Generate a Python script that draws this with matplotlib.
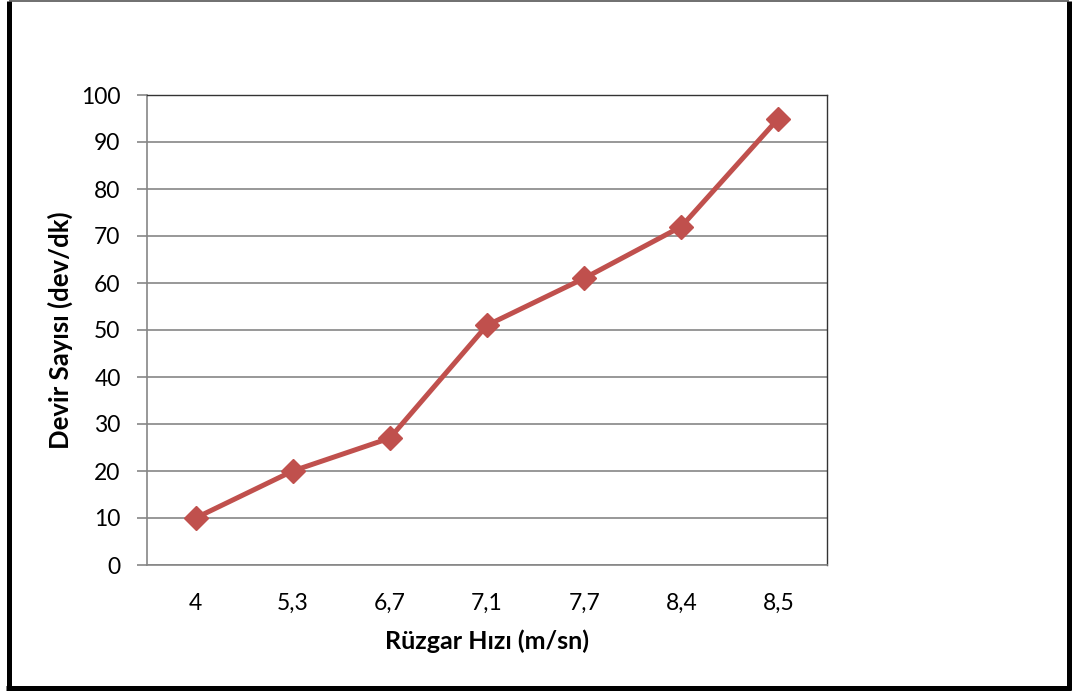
import matplotlib.pyplot as plt
from matplotlib.lines import Line2D

# rüzgar hızı kategorileri ve ölçülen devir sayıları
ruzgar_hizi = ['4', '5,3', '6,7', '7,1', '7,7', '8,4', '8,5']
devir_sayisi = [10, 20, 27, 51, 61, 72, 95]
y_ticks = [0, 10, 20, 30, 40, 50, 60, 70, 80, 90, 100]

plt.rcParams['font.family'] = ['Lato', 'DejaVu Sans']

W, H = 1072, 691
fig = plt.figure(figsize=(W / 100, H / 100), dpi=100)

# dış çerçeve (sol, sağ, alt kalın; üst ince)
def px(x, y):
    return x / W, 1 - y / H

for (x0, y0, x1, y1, lw, c) in [
    (8.5, 0.5, 8.5, 690, 5, 'black'),
    (1068.5, 0.5, 1068.5, 690, 5, 'black'),
    (6, 688, 1071, 688, 5, 'black'),
    (8.5, 1, 1068.5, 1, 1.5, '#444444'),
]:
    a, b = px(x0, y0)
    c2, d = px(x1, y1)
    fig.add_artist(Line2D([a, c2], [b, d], lw=lw * 0.72, color=c,
                          transform=fig.transFigure, solid_capstyle='butt'))

ax = fig.add_axes([147 / W, (H - 565) / H, (827 - 147) / W, (565 - 95) / H])

x = range(len(ruzgar_hizi))
ax.plot(x, devir_sayisi, color='#C0504D', lw=3.6, marker='D', markersize=12,
        zorder=3, clip_on=False)

ax.set_xlim(-0.5, len(ruzgar_hizi) - 0.5)
ax.set_ylim(0, 100)
ax.set_yticks(y_ticks)
ax.set_xticks(list(x))
ax.set_xticklabels(ruzgar_hizi)

ax.yaxis.grid(True, color='#868686', lw=1.2)
ax.set_axisbelow(True)

for s in ['left', 'bottom']:
    ax.spines[s].set_color('#868686')
    ax.spines[s].set_linewidth(1.2)
for s in ['top', 'right']:
    ax.spines[s].set_color('#333333')
    ax.spines[s].set_linewidth(1.0)

ax.tick_params(axis='y', length=7, width=1.2, color='#868686',
               labelsize=16.5, pad=12)
ax.tick_params(axis='x', length=0, labelsize=16.5, pad=20)

ax.set_xlabel('Rüzgar Hızı (m/sn)', fontsize=18, fontweight='bold', labelpad=11)
ax.set_ylabel('Devir Sayısı (dev/dk)', fontsize=18.5, fontweight='bold', labelpad=6)

fig.savefig('out.png', dpi=100)
